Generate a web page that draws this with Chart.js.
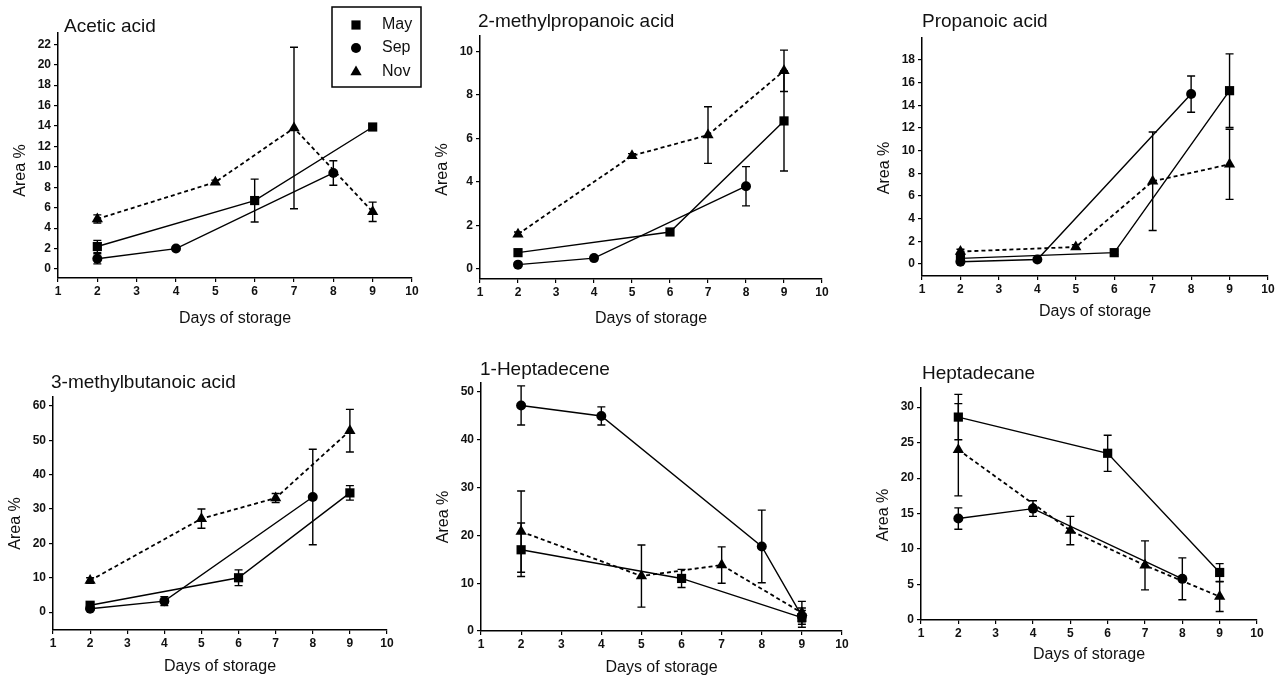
<!DOCTYPE html>
<html>
<head>
<meta charset="utf-8" />
<title>Area % during days of storage</title>
<script src="https://cdn.jsdelivr.net/npm/chart.js@4.4.0/dist/chart.umd.min.js"></script>
<style>
    body { margin: 0; background: #fff; }
    #wrap { position: relative; width: 1281px; height: 679px; overflow: hidden; }
    #wrap canvas { position: absolute; }
</style>
</head>
<body>
<div id="wrap">
    <canvas id="c0"></canvas>
    <canvas id="c1"></canvas>
    <canvas id="c2"></canvas>
    <canvas id="c3"></canvas>
    <canvas id="c4"></canvas>
    <canvas id="c5"></canvas>
</div>
<script>
    // ---- data: each point is [day, mean area %, error] ----
    const seasons = ["May", "Sep", "Nov"];
    const dayTicks = [1, 2, 3, 4, 5, 6, 7, 8, 9, 10];
    const panelTitles = ["Acetic acid", "2-methylpropanoic acid", "Propanoic acid",
        "3-methylbutanoic acid", "1-Heptadecene", "Heptadecane"];

    const aceticTicks = [0, 2, 4, 6, 8, 10, 12, 14, 16, 18, 20, 22];
    const aceticMay = [[2, 2.2, 0.6], [6, 6.7, 2.1], [9, 13.9, 0.2]];
    const aceticSep = [[2, 1.0, 0.5], [4, 2.0, 0.15], [8, 9.4, 1.2]];
    const aceticNov = [[2, 4.9, 0.4], [5, 8.5, 0.2], [7, 13.8, 7.9], [9, 5.6, 0.95]];

    const methylpropTicks = [0, 2, 4, 6, 8, 10];
    const methylpropMay = [[2, 0.75, 0.1], [6, 1.7, 0.15], [9, 6.8, 2.3]];
    const methylpropSep = [[2, 0.2, 0.05], [4, 0.5, 0.08], [8, 3.8, 0.9]];
    const methylpropNov = [[2, 1.6, 0.1], [5, 5.2, 0.1], [7, 6.15, 1.3], [9, 9.1, 0.95]];

    const propanoicTicks = [0, 2, 4, 6, 8, 10, 12, 14, 16, 18];
    const propanoicMay = [[2, 0.5, 0.3], [6, 1.0, 0.15], [9, 15.3, 3.25]];
    const propanoicSep = [[2, 0.2, 0.1], [4, 0.4, 0.1], [8, 15.0, 1.6]];
    const propanoicNov = [[2, 1.1, 0.2], [5, 1.5, 0.2], [7, 7.3, 4.35], [9, 8.8, 3.1]];

    const methylbutTicks = [0, 10, 20, 30, 40, 50, 60];
    const methylbutMay = [[2, 2.0, 0.8], [6, 10.0, 2.3], [9, 34.7, 2.1]];
    const methylbutSep = [[2, 1.0, 0.5], [4, 3.2, 1.3], [8, 33.5, 13.9]];
    const methylbutNov = [[2, 9.2, 0.8], [5, 27.2, 2.8], [7, 33.2, 1.3], [9, 52.8, 6.2]];

    const heptadeceneTicks = [0, 10, 20, 30, 40, 50];
    const heptadeceneMay = [[2, 17.0, 5.6], [6, 11.0, 1.9], [9, 2.8, 2.0]];
    const heptadeceneSep = [[2, 47.2, 4.1], [4, 45.0, 1.9], [8, 17.7, 7.6], [9, 3.1, 1.2]];
    const heptadeceneNov = [[2, 20.8, 8.5], [5, 11.5, 6.5], [7, 13.8, 3.8], [9, 3.8, 2.4]];

    const heptadecaneTicks = [0, 5, 10, 15, 20, 25, 30];
    const heptadecaneMay = [[2, 28.6, 3.2], [6, 23.5, 2.55], [9, 6.7, 1.25]];
    const heptadecaneSep = [[2, 14.3, 1.5], [4, 15.7, 1.1], [8, 5.8, 2.95]];
    const heptadecaneNov = [[2, 24.0, 6.5], [5, 12.6, 2.0], [7, 7.7, 3.45], [9, 3.3, 2.1]];

    const yRanges = [[-0.88, 23.1], [-0.46, 10.7], [-1.06, 19.95], [-5.2, 62.6], [0, 51.9], [0, 32.7]];

    const panels = [
        { series: [aceticMay, aceticSep, aceticNov], ticks: aceticTicks },
        { series: [methylpropMay, methylpropSep, methylpropNov], ticks: methylpropTicks },
        { series: [propanoicMay, propanoicSep, propanoicNov], ticks: propanoicTicks },
        { series: [methylbutMay, methylbutSep, methylbutNov], ticks: methylbutTicks },
        { series: [heptadeceneMay, heptadeceneSep, heptadeceneNov], ticks: heptadeceneTicks },
        { series: [heptadecaneMay, heptadecaneSep, heptadecaneNov], ticks: heptadecaneTicks }
    ];

    // ---- layout (page px): canvas cell, plot box L,T,R,B, title pos, axis title offsets ----
    const boxes = [
        { cell: [0, 0, 426, 330], plot: [58, 33, 412, 278], title: [64, 32], yDy: 15, xDy: 41, legend: [332, 7, 421, 87] },
        { cell: [426, 0, 426, 330], plot: [480, 36, 822, 279], title: [478, 27], yDy: 12, xDy: 40 },
        { cell: [852, 0, 429, 330], plot: [922, 38, 1268, 276], title: [922, 27], yDy: 11, xDy: 36 },
        { cell: [0, 330, 426, 349], plot: [53, 397, 387, 630], title: [51, 388], yDy: 10, xDy: 37 },
        { cell: [426, 330, 426, 349], plot: [481, 383, 842, 631], title: [480, 375], yDy: 10, xDy: 37 },
        { cell: [852, 330, 429, 349], plot: [921, 388, 1257, 620], title: [922, 379], yDy: 11, xDy: 35 }
    ];

    const FONT = "'Liberation Sans', Arial, Helvetica, sans-serif";
    const Y_W = 40, X_H = 22;
    const markers = [
        { pointStyle: 'rect', pointRadius: 6.5, borderDash: [], borderWidth: 1.4 },
        { pointStyle: 'circle', pointRadius: 5, borderDash: [], borderWidth: 1.4 },
        { pointStyle: 'triangle', pointRadius: 6.5, borderDash: [4, 3], borderWidth: 1.8 }
    ];

    function decor(i) {
        const b = boxes[i];
        const cx = b.cell[0], cy = b.cell[1];
        return {
            id: 'decor' + i,
            beforeDatasetsDraw(chart) {
                // error bars
                const ctx = chart.ctx, xs = chart.scales.x, ys = chart.scales.y;
                ctx.save();
                ctx.strokeStyle = '#000';
                ctx.lineWidth = 1.4;
                chart.data.datasets.forEach(ds => ds.data.forEach((pt, j) => {
                    const e = ds.sd[j];
                    if (!e) return;
                    const x = xs.getPixelForValue(pt.x);
                    const y1 = ys.getPixelForValue(pt.y - e), y2 = ys.getPixelForValue(pt.y + e);
                    ctx.beginPath();
                    ctx.moveTo(x, y1); ctx.lineTo(x, y2);
                    ctx.moveTo(x - 4, y1); ctx.lineTo(x + 4, y1);
                    ctx.moveTo(x - 4, y2); ctx.lineTo(x + 4, y2);
                    ctx.stroke();
                }));
                ctx.restore();
            },
            afterDraw(chart) {
                const ctx = chart.ctx, a = chart.chartArea;
                ctx.save();
                ctx.fillStyle = '#111';
                // panel title
                ctx.font = '19px ' + FONT;
                ctx.textAlign = 'left';
                ctx.textBaseline = 'alphabetic';
                ctx.fillText(panelTitles[i], b.title[0] - cx, b.title[1] - cy);
                // axis titles
                ctx.font = '16px ' + FONT;
                ctx.textAlign = 'center';
                ctx.textBaseline = 'middle';
                ctx.fillText('Days of storage', (a.left + a.right) / 2, a.bottom + b.xDy);
                ctx.save();
                ctx.translate(a.left - 37, (a.top + a.bottom) / 2 + b.yDy);
                ctx.rotate(-Math.PI / 2);
                ctx.fillText('Area %', 0, 0);
                ctx.restore();
                // legend box
                if (b.legend) {
                    const [x1, y1, x2, y2] = b.legend.map((v, k) => v - (k % 2 ? cy : cx));
                    ctx.strokeStyle = '#000';
                    ctx.lineWidth = 1.5;
                    ctx.strokeRect(x1, y1, x2 - x1, y2 - y1);
                    ctx.textAlign = 'left';
                    ctx.font = '16px ' + FONT;
                    const rows = [25, 48, 72];
                    chart.data.datasets.forEach((ds, k) => {
                        ctx.fillStyle = '#000';
                        Chart.helpers.drawPoint(ctx, { pointStyle: ds.pointStyle, radius: ds.pointRadius, rotation: 0, borderWidth: 0 }, 356 - cx, rows[k] - cy);
                        ctx.fillStyle = '#111';
                        ctx.fillText(ds.label, 382 - cx, rows[k] - cy);
                    });
                }
                ctx.restore();
            }
        };
    }

    function axisOpts(ticks, min, max, isX) {
        return {
            type: 'linear',
            min: min,
            max: max,
            afterBuildTicks: s => { s.ticks = ticks.map(v => ({ value: v })); },
            afterFit: s => { if (isX) s.height = X_H; else s.width = Y_W; },
            grid: { display: true, drawOnChartArea: false, drawTicks: true, tickLength: 4, color: '#000', lineWidth: 1.2 },
            border: { display: true, color: '#000', width: 1.5 },
            ticks: { color: '#111', font: { family: FONT, size: 12, weight: 'bold' }, padding: isX ? 2 : 3, maxRotation: 0, autoSkip: false }
        };
    }

    panels.forEach((p, i) => {
        const b = boxes[i];
        const [cx, cy, cw, ch] = b.cell;
        const [L, T, R, B] = b.plot;
        const cv = document.getElementById('c' + i);
        cv.width = cw; cv.height = ch;
        cv.style.left = cx + 'px'; cv.style.top = cy + 'px';
        new Chart(cv, {
            type: 'line',
            data: {
                datasets: p.series.map((s, k) => Object.assign({
                    label: seasons[k],
                    data: s.map(q => ({ x: q[0], y: q[1] })),
                    sd: s.map(q => q[2]),
                    borderColor: '#000',
                    backgroundColor: '#000',
                    pointBackgroundColor: '#000',
                    pointBorderWidth: 0,
                    tension: 0,
                    fill: false
                }, markers[k]))
            },
            options: {
                responsive: false,
                animation: false,
                devicePixelRatio: 1,
                layout: { padding: { left: L - cx - Y_W, top: T - cy, right: cx + cw - R, bottom: cy + ch - B - X_H } },
                plugins: { legend: { display: false }, tooltip: { enabled: false }, title: { display: false } },
                scales: {
                    x: axisOpts(dayTicks, 1, 10, true),
                    y: axisOpts(p.ticks, yRanges[i][0], yRanges[i][1], false)
                }
            },
            plugins: [decor(i)]
        });
    });
</script>
</body>
</html>
